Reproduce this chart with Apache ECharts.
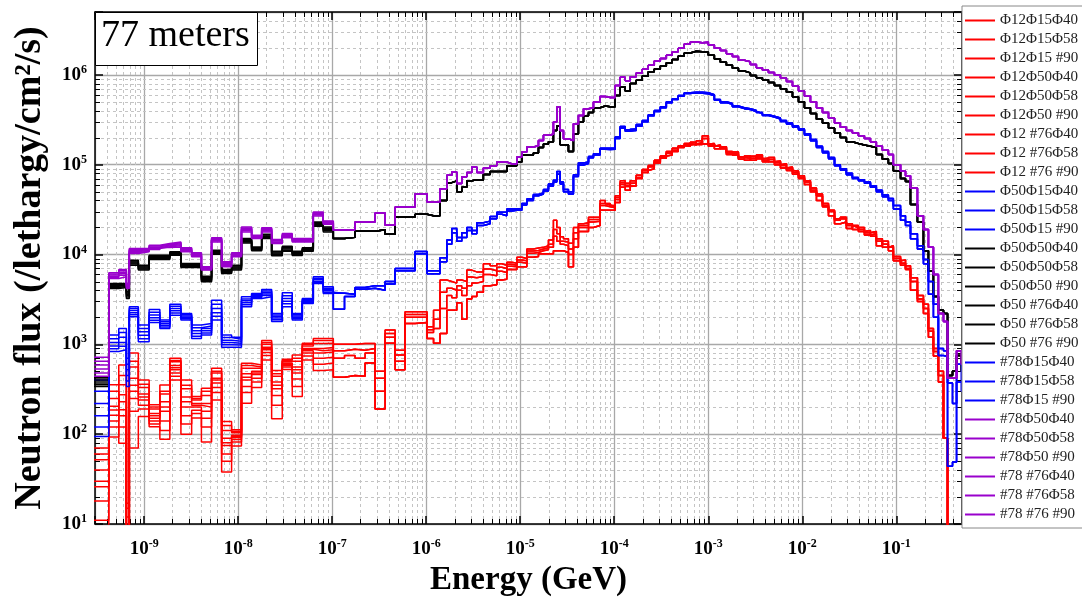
<!DOCTYPE html>
<html><head><meta charset="utf-8">
<script src="https://cdn.jsdelivr.net/npm/echarts@6.0.0/dist/echarts.min.js"></script>
<style>html,body{margin:0;padding:0;background:#fff}#c{width:1082px;height:603px}</style>
</head><body><div id="c"></div>
<script>
// ---------- DATA ----------
const seriesNames = ['Φ12Φ15Φ40','Φ12Φ15Φ58','Φ12Φ15 #90','Φ12Φ50Φ40','Φ12Φ50Φ58','Φ12Φ50 #90','Φ12 #76Φ40','Φ12 #76Φ58','Φ12 #76 #90',
 'Φ50Φ15Φ40','Φ50Φ15Φ58','Φ50Φ15 #90','Φ50Φ50Φ40','Φ50Φ50Φ58','Φ50Φ50 #90','Φ50 #76Φ40','Φ50 #76Φ58','Φ50 #76 #90',
 '#78Φ15Φ40','#78Φ15Φ58','#78Φ15 #90','#78Φ50Φ40','#78Φ50Φ58','#78Φ50 #90','#78 #76Φ40','#78 #76Φ58','#78 #76 #90'];

// bin edges, log10(E/GeV)
const lowEdges = [-9.600,-9.376,-9.270,-9.189,-9.158,-9.062,-8.947,-8.833,-8.727,-8.609,-8.495,-8.391,-8.283,-8.176,-8.070,-7.965,-7.857,-7.750,-7.644,-7.531,-7.425,-7.318,-7.201,-7.095,-6.988];
const midEdges = [-6.988,-6.869,-6.757,-6.650,-6.544,-6.437,-6.330,-6.225,-6.118,-5.991,-5.922,-5.853,-5.781,-5.728,-5.675,-5.622,-5.568,-5.515,-5.462,-5.392,-5.320,-5.249,-5.196,-5.143,-5.089,-5.036,-4.983,-4.930,-4.860,-4.806,-4.753,-4.700,-4.647,-4.611,-4.575,-4.540,-4.487,-4.434,-4.381,-4.327,-4.274,-4.221,-4.150,-4.096,-4.043,-3.990,-3.937,-3.883,-3.830];
const highEdges = [-3.830,-3.766,-3.702,-3.638,-3.574,-3.510,-3.446,-3.383,-3.319,-3.255,-3.191,-3.127,-3.063,-2.999,-2.935,-2.871,-2.807,-2.743,-2.679,-2.616,-2.552,-2.488,-2.424,-2.360,-2.296,-2.232,-2.168,-2.104,-2.040,-1.977,-1.913,-1.849,-1.785,-1.721,-1.657,-1.595,-1.531,-1.467,-1.403,-1.339,-1.275,-1.212,-1.148,-1.084,-1.031,-0.955,-0.902,-0.849,-0.775,-0.711,-0.658,-0.605,-0.552,-0.498,-0.455,-0.402,-0.359,-0.306,-0.210];

// low-energy flux per series (/lethargy/cm2/s)
const lowR1 = [70,355,590,17,800,400,212,353,698,400,262,324,541,138,112,615,590,1100,510,680,760,1030,1160,1160];
const lowR2 = [52,204,355,5,560,330,190,280,640,320,240,270,480,110,104,540,540,1000,440,650,650,960,1020,1030];
const lowR3 = [40,186,275,4,420,280,170,230,580,260,220,220,420,90,97,470,500,930,380,620,560,900,900,920];
const lowR4 = [26,162,187,12,300,240,150,180,520,200,200,180,370,75,92,400,460,870,320,600,480,850,800,820];
const lowR5 = [18,120,160,3,250,210,140,140,480,160,185,150,330,60,87,340,420,810,270,580,410,800,700,720];
const lowR6 = [11,93,120,6,180,190,121,110,440,130,170,120,290,50,82,290,380,750,210,560,340,740,600,620];
const lowR7 = [60,250,79,15,70,157,200,88,400,100,151,82,240,38,74,221,330,670,148,525,262,670,510,520];
const lowR8 = [30,140,450,4,650,360,160,300,660,350,250,300,500,125,108,580,560,1050,470,660,700,1000,1100,1100];
const lowR9 = [6,300,230,5,350,260,130,200,550,230,210,200,400,80,95,430,480,900,350,610,520,880,850,870];
const lowB1 = [400,1270,1500,700,2620,1640,2440,1860,2800,2200,1640,1700,3100,1270,1200,3380,3680,4080,2200,3740,2200,3240,5650,4370];
const lowB2 = [300,1150,1350,600,2500,1500,2280,1780,2650,2130,1530,1600,2800,1190,1140,3200,3590,3920,2120,3480,2130,3160,5450,4220];
const lowB3 = [220,1050,1200,520,2380,1380,2120,1700,2500,2060,1420,1500,2500,1110,1080,3050,3500,3780,2040,3240,2060,3080,5250,4080];
const lowB4 = [160,960,1050,450,2250,1260,1980,1630,2370,2000,1320,1420,2250,1050,1030,2900,3410,3640,1960,3020,2000,3000,5050,3940];
const lowB5 = [120,890,950,390,2130,1150,1850,1560,2230,1930,1230,1340,2050,990,980,2750,3320,3500,1880,2820,1930,2920,4900,3800];
const lowB6 = [94,830,870,340,2030,1070,1750,1500,2100,1860,1160,1270,1860,930,930,2620,3240,3380,1800,2620,1860,2850,4750,3680];
const lowK1 = [430,4750,4750,3850,8650,7610,9830,9830,10700,7940,7940,5740,11160,6810,7610,15030,12150,16810,10880,12370,10880,11850,23050,20260];
const lowK2 = [410,4640,4660,3730,8440,7430,9620,9620,10530,7790,7790,5580,10940,6680,7430,14710,11910,16450,10640,12070,10650,11660,22560,19770];
const lowK3 = [390,4530,4570,3610,8230,7250,9410,9410,10350,7630,7630,5430,10730,6550,7250,14400,11680,16100,10390,11770,10420,11460,22080,19290];
const lowK4 = [370,4420,4480,3490,8020,7070,9200,9200,10180,7480,7480,5270,10510,6410,7070,14080,11440,15740,10150,11480,10200,11270,21590,18800];
const lowK5 = [355,4300,4390,3360,7810,6880,9000,9000,10000,7320,7320,5120,10300,6280,6880,13770,11210,15390,9900,11180,9970,11070,21110,18320];
const lowK6 = [340,4190,4300,3240,7610,6700,8790,8790,9830,7170,7170,4960,10080,6150,6700,13450,10970,15030,9660,10880,9740,10880,20620,17830];
const lowP1 = [720,6250,6810,4750,11650,11650,12680,13240,13800,11850,10430,7300,15400,8290,10430,20260,16370,19900,14650,17080,15030,15030,29790,23650];
const lowP2 = [650,6080,6570,4640,11370,11460,12410,12980,13470,11620,10230,7180,15080,8090,10230,19770,16100,19490,14370,16740,14780,14780,29210,23260];
const lowP3 = [590,5910,6340,4530,11090,11270,12150,12720,13140,11390,10030,7060,14760,7890,10030,19290,15830,19070,14090,16410,14540,14540,28620,22880];
const lowP4 = [530,5740,6110,4420,10810,11080,11880,12470,12810,11160,9820,6940,14440,7700,9820,18800,15570,18660,13800,16070,14290,14290,28040,22490];
const lowP5 = [480,5570,5870,4300,10530,10890,11620,12210,12480,10930,9620,6820,14120,7500,9620,18320,15300,18240,13520,15740,14050,14050,27450,22110];
const lowP6 = [440,5410,5640,4190,10250,10700,11350,11950,12150,10700,9420,6700,13800,7300,9420,17830,15030,17830,13240,15400,13800,13800,26870,21720];

// intermediate energies
const midRH = [1000,1000,1020,1020,500,1440,860,2300,2300,1570,2400,5200,5000,4800,5200,5000,6700,6400,6400,7900,7500,7900,7600,8200,8000,9300,9000,11500,11800,12000,12500,14500,24000,20000,15800,15000,13300,20000,22000,22500,26000,26000,40000,37000,35000,45000,66000,62000];
const midRX = [850,880,860,900,420,1320,760,2150,2150,1450,1900,3800,4200,4000,4500,4200,5600,5500,5700,6900,6600,7200,7000,7800,7600,8700,8500,10900,11100,11500,11900,13000,19000,17000,14000,13800,11500,17500,21000,21000,24500,24500,37000,35500,34000,43000,63000,59000];
const midRM = [700,750,700,800,300,1200,650,2000,2000,1350,1500,2500,3500,3300,4000,3500,4500,4800,5000,6000,5800,6500,6300,7400,7300,8200,8000,10300,10500,11000,11300,12000,16000,14000,13000,12500,10000,15000,20000,20000,23000,23500,35000,34000,33000,41000,60000,57000];
const midRL = [430,450,440,620,190,1030,520,1700,1750,1160,1030,1320,2400,2400,2900,1900,3200,3400,3800,4500,4600,5200,5300,6800,6800,7300,7300,9300,9500,10200,10200,10200,11000,11000,11000,10500,7300,12000,18000,18000,20000,21000,31000,31000,31000,38000,56000,52000];
const midBA = [3700,3600,4300,4500,4500,5000,7000,7000,10800,6600,6600,9200,14500,19500,15500,17500,20000,18500,22500,23500,26500,29500,29500,32000,32000,32500,37000,41500,46500,48500,53000,61000,67000,84000,64000,53000,50000,77000,104000,107000,123000,132000,152000,152000,152000,203000,265000,245000];
const midBB = [2450,3400,4100,4200,4000,4700,6600,6600,10200,6100,6100,8300,13000,17500,14000,15500,18500,17000,21000,22000,25000,28000,27000,30500,31000,31000,35500,40000,45000,47000,51000,58000,64000,78000,61000,50000,47000,74000,99000,103000,119000,128000,148000,147000,148000,196000,255000,235000];
const midK = [15100,15500,18100,18100,18800,16800,26200,26200,28000,27000,27000,40000,63000,66000,50000,56000,66000,68000,67000,77900,84000,84000,84000,97000,97000,107000,127000,128000,135000,155000,170000,180000,240000,270000,167000,165000,140000,220000,298000,350000,380000,430000,450000,440000,440000,590000,730000,660000];
const midP = [18600,19000,23000,23000,29000,21200,33800,33800,47500,38400,38400,54000,76000,82800,61500,73400,82000,94000,82000,92000,97000,107000,107000,102000,102000,121700,138000,157000,162000,186000,212000,218000,298000,437000,240000,194000,185000,285000,353000,419000,430000,497000,574000,560000,560000,760000,942000,860000];

// high energies
const highRA = [62000,72000,82000,95000,108000,118000,135000,145000,155000,165000,170000,175000,195000,160000,165000,150000,140000,132000,115000,125000,118000,128000,112000,120000,105000,98000,90000,82000,75000,64000,55000,45000,37000,30000,24000,26000,21000,20000,19000,17500,18000,14000,13000,12000,9500,8000,7500,5000,3500,2800,1500,830,450,90,5,5,5,5];
const highRB = [58000,76000,86000,90000,112000,125000,128000,152000,160000,172000,165000,185000,170000,172000,150000,158000,130000,138000,122000,112000,124000,116000,118000,108000,110000,92000,94000,78000,70000,60000,52000,40000,34000,27000,22000,23000,19500,21000,18000,18500,16000,12500,14000,11000,8500,8700,6800,4000,3000,2200,1200,740,380,90,5,5,5,5];
const highRC = [66000,70000,88000,98000,104000,122000,140000,140000,162000,160000,178000,168000,210000,165000,158000,155000,135000,128000,120000,118000,112000,122000,108000,114000,100000,102000,86000,85000,72000,66000,50000,47000,35000,31000,25000,25000,22000,19000,20000,16500,17000,15000,12000,12500,9000,7600,7000,5500,3200,2500,1400,900,500,90,5,5,5,5];
const highBA = [250000,280000,310000,360000,400000,440000,500000,540000,590000,630000,640000,640000,630000,600000,530000,500000,480000,450000,430000,420000,400000,380000,360000,345000,330000,310000,290000,270000,250000,220000,190000,160000,140000,120000,100000,90000,80000,72000,68000,64000,58000,52000,46000,42000,35000,27000,23000,17000,12500,8800,5000,2800,900,850,370,220,600,400];
const highBB = [240000,270000,300000,350000,390000,430000,490000,530000,580000,620000,630000,625000,615000,585000,520000,490000,470000,440000,420000,410000,390000,372000,352000,338000,322000,302000,283000,263000,243000,214000,185000,155000,136000,116000,97000,87000,77000,70000,66000,62000,56000,50000,44000,40000,32000,24000,21000,15000,11500,7900,3600,2000,750,730,44,49,380,300];
const highK = [800000,870000,970000,1080000,1160000,1250000,1360000,1480000,1620000,1750000,1830000,1800000,1780000,1650000,1500000,1380000,1280000,1180000,1100000,1050000,980000,930000,880000,820000,760000,700000,640000,570000,500000,430000,370000,320000,290000,255000,225000,200000,180000,172000,165000,160000,155000,130000,115000,103000,85000,70000,65000,36000,23000,11000,6500,3400,2400,2200,450,500,750,500];
const highP = [950000,1050000,1150000,1280000,1420000,1520000,1650000,1800000,1980000,2200000,2320000,2280000,2300000,2150000,1980000,1860000,1720000,1600000,1450000,1400000,1300000,1200000,1130000,1060000,990000,920000,840000,750000,660000,580000,500000,430000,380000,330000,290000,260000,240000,225000,210000,195000,180000,160000,145000,130000,100000,85000,75000,55000,27000,19000,12000,6000,2200,1800,420,420,850,600];

const xTickExps = [-9,-8,-7,-6,-5,-4,-3,-2,-1];
const yTickExps = [1,2,3,4,5,6];

// ---------- STYLE / BUILD ----------
const F = 'Liberation Serif';
const colorOf = {red:'#ff0000', blue:'#0000ff', black:'#000000', purple:'#9900cc'};
const spec = [
 ['red',lowR1,midRH,highRA],['red',lowR2,midRX,highRB],['red',lowR3,midRM,highRC],
 ['red',lowR4,midRH,highRA],['red',lowR5,midRL,highRB],['red',lowR6,midRX,highRC],
 ['red',lowR7,midRL,highRA],['red',lowR8,midRM,highRB],['red',lowR9,midRL,highRC],
 ['blue',lowB1,midBA,highBA],['blue',lowB2,midBB,highBB],['blue',lowB3,midBA,highBA],
 ['black',lowK1,midK,highK],['black',lowK2,midK,highK],['black',lowK3,midK,highK],
 ['black',lowK4,midK,highK],['black',lowK5,midK,highK],['black',lowK6,midK,highK],
 ['blue',lowB4,midBB,highBB],['blue',lowB5,midBA,highBB],['blue',lowB6,midBB,highBA],
 ['purple',lowP1,midP,highP],['purple',lowP2,midP,highP],['purple',lowP3,midP,highP],
 ['purple',lowP4,midP,highP],['purple',lowP5,midP,highP],['purple',lowP6,midP,highP]
];
const allEdges = lowEdges.slice(0,-1).concat(midEdges.slice(0,-1), highEdges);
const XMIN = 3e-10, XMAX = 0.5, YMIN = 10, YMAX = 5e6;

const lineSeries = spec.map((s, i) => {
  const vals = s[1].concat(s[2], s[3]);
  const data = vals.map((v, k) => [Math.pow(10, allEdges[k]), v]);
  data.push([Math.pow(10, allEdges[vals.length]), vals[vals.length - 1]]);
  return {
    name: seriesNames[i], type: 'line', step: 'end', data: data,
    symbol: 'none', showSymbol: false, clip: true, z: 3,
    lineStyle: {color: colorOf[s[0]], width: 1.5},
    itemStyle: {color: colorOf[s[0]]}
  };
});

// minor grid positions (2..9 x 10^n)
const minorX = [], minorY = [];
for (let d = -10; d <= 0; d++) for (let m = 2; m <= 9; m++) { const v = m * Math.pow(10, d); if (v > XMIN && v < XMAX) minorX.push([v, YMIN]); }
for (let d = 1; d <= 6; d++) for (let m = 2; m <= 9; m++) { const v = m * Math.pow(10, d); if (v > YMIN && v < YMAX) minorY.push([XMIN, v]); }

const gridDash = {stroke:'#c4c4c4', lineWidth:1, lineDash:[3,3]};
const minorXSeries = {
  type:'custom', silent:true, z:1, data:minorX, clip:false,
  renderItem: (params, api) => {
    const cs = params.coordSys; const x = Math.round(api.coord([api.value(0), YMIN])[0]) + 0.5;
    return {type:'group', children:[
      {type:'line', shape:{x1:x,y1:cs.y,x2:x,y2:cs.y+cs.height}, style:gridDash},
      {type:'line', shape:{x1:x,y1:cs.y+cs.height,x2:x,y2:cs.y+cs.height-5}, style:{stroke:'#000',lineWidth:1}},
      {type:'line', shape:{x1:x,y1:cs.y,x2:x,y2:cs.y+5}, style:{stroke:'#000',lineWidth:1}}
    ]};
  }
};
const minorYSeries = {
  type:'custom', silent:true, z:1, data:minorY, clip:false,
  renderItem: (params, api) => {
    const cs = params.coordSys; const y = Math.round(api.coord([XMIN, api.value(1)])[1]) + 0.5;
    return {type:'group', children:[
      {type:'line', shape:{x1:cs.x,y1:y,x2:cs.x+cs.width,y2:y}, style:gridDash},
      {type:'line', shape:{x1:cs.x,y1:y,x2:cs.x+5,y2:y}, style:{stroke:'#000',lineWidth:1}},
      {type:'line', shape:{x1:cs.x+cs.width,y1:y,x2:cs.x+cs.width-5,y2:y}, style:{stroke:'#000',lineWidth:1}}
    ]};
  }
};

function powLabel(exps) {
  return function (v) {
    const l = Math.log10(v), e = Math.round(l);
    if (Math.abs(l - e) > 1e-6 || exps.indexOf(e) < 0) return '';
    return '{b|10}{s|' + e + '}';
  };
}
const richLab = {
  b:{fontFamily:F, fontWeight:'bold', fontSize:19, color:'#000', lineHeight:22},
  s:{fontFamily:F, fontWeight:'bold', fontSize:12, color:'#000', verticalAlign:'top', lineHeight:12}
};
const majorSplit = {show:true, lineStyle:{color:'#a8a8a8', width:1.3}};
const axLine = {show:true, onZero:false, lineStyle:{color:'#000', width:1.5}};
const axTick = {show:true, inside:true, length:8, lineStyle:{color:'#000', width:1.5}};

const chart = echarts.init(document.getElementById('c'), null, {renderer:'canvas'});
chart.setOption({
  animation:false,
  backgroundColor:'#fff',
  grid:{left:95, right:120, top:12, bottom:79, containLabel:false},
  xAxis:[
    {type:'log', logBase:10, min:XMIN, max:XMAX, splitNumber:10, axisLine:axLine, axisTick:axTick, splitLine:majorSplit,
     axisLabel:{formatter:powLabel(xTickExps), rich:richLab, margin:14},
     name:'Energy (GeV)', nameLocation:'middle', nameGap:40,
     nameTextStyle:{fontFamily:F, fontWeight:'bold', fontSize:33, color:'#000'}},
    {type:'log', logBase:10, min:XMIN, max:XMAX, splitNumber:10, position:'top', axisLine:axLine, axisTick:axTick,
     splitLine:{show:false}, axisLabel:{show:false}}
  ],
  yAxis:[
    {type:'log', logBase:10, min:YMIN, max:YMAX, splitNumber:6, axisLine:axLine, axisTick:axTick, splitLine:majorSplit,
     axisLabel:{formatter:powLabel(yTickExps), rich:richLab, margin:8},
     name:'Neutron flux (/lethargy/cm²/s)', nameLocation:'middle', nameGap:46, nameRotate:90,
     nameTextStyle:{fontFamily:F, fontWeight:'bold', fontSize:38, color:'#000'}},
    {type:'log', logBase:10, min:YMIN, max:YMAX, splitNumber:6, position:'right', axisLine:axLine, axisTick:axTick,
     splitLine:{show:false}, axisLabel:{show:false}}
  ],
  legend:{
    data:seriesNames, orient:'vertical', left:962, top:6, width:118,
    icon:'rect', itemWidth:30, itemHeight:2, itemGap:4, padding:[7,6,6,3],
    backgroundColor:'#fff', borderColor:'#888', borderWidth:1,
    textStyle:{fontFamily:F, fontSize:15, color:'#222', lineHeight:15},
    selectedMode:false
  },
  graphic:[
    {type:'rect', left:95, top:12, shape:{width:162, height:53}, style:{fill:'#fff', stroke:'#000', lineWidth:1}, z:10},
    {type:'text', left:101, top:17, style:{text:'77 meters', font:'38px "Liberation Serif"', fill:'#000'}, z:11}
  ],
  series:[minorXSeries, minorYSeries].concat(lineSeries)
});
</script></body></html>
